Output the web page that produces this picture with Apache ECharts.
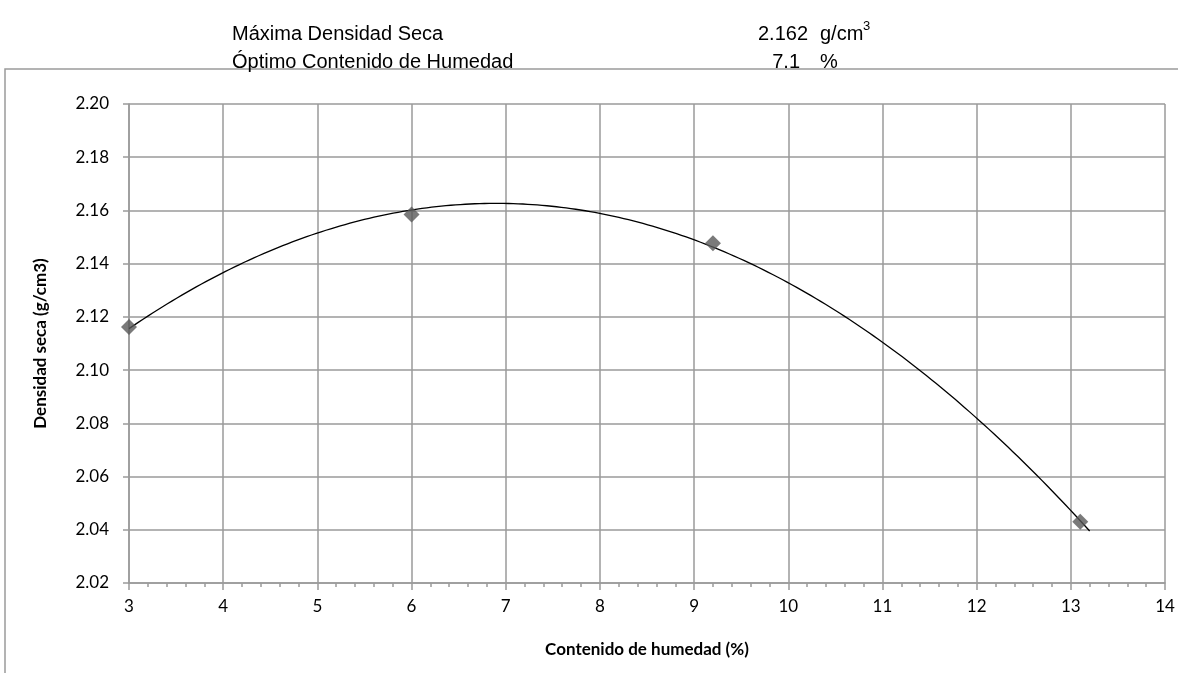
<!DOCTYPE html>
<html>
<head>
<meta charset="utf-8">
<script src="https://cdn.jsdelivr.net/npm/echarts@6/dist/echarts.min.js"></script>
<style>html,body{margin:0;padding:0;background:#fff;}#c{width:1178px;height:673px;}</style>
</head>
<body>
<div id="c"></div>
<script>
// Data
const humedad = [3, 6, 9.2, 13.1];
const densidad = [2.1162, 2.1585, 2.1477, 2.043];
const trendRange = [3, 13.2];
const maxDensidad = '2.162';
const optHumedad = '7.1';
const xTicks = [3,4,5,6,7,8,9,10,11,12,13,14];
const yTicks = ['2.02','2.04','2.06','2.08','2.10','2.12','2.14','2.16','2.18','2.20'];

// Polynomial (order 2) trendline: least-squares fit of the data
function quadFit(xs, ys) {
  let S = [0,0,0,0,0], T = [0,0,0];
  for (let i = 0; i < xs.length; i++) {
    let p = 1;
    for (let k = 0; k < 5; k++) { S[k] += p; if (k < 3) T[k] += p * ys[i]; p *= xs[i]; }
  }
  const M = [[S[0],S[1],S[2],T[0]],[S[1],S[2],S[3],T[1]],[S[2],S[3],S[4],T[2]]];
  for (let i = 0; i < 3; i++) {
    for (let j = i+1; j < 3; j++) {
      const f = M[j][i] / M[i][i];
      for (let k = i; k < 4; k++) M[j][k] -= f * M[i][k];
    }
  }
  const c = [0,0,0];
  for (let i = 2; i >= 0; i--) {
    let s = M[i][3];
    for (let k = i+1; k < 3; k++) s -= M[i][k] * c[k];
    c[i] = s / M[i][i];
  }
  return c;
}
const coef = quadFit(humedad, densidad);
const trend = [];
for (let i = 0; i <= 200; i++) {
  const x = trendRange[0] + (trendRange[1] - trendRange[0]) * i / 200;
  trend.push([x, coef[0] + coef[1]*x + coef[2]*x*x]);
}

const chart = echarts.init(document.getElementById('c'), null, {renderer: 'canvas'});
const gridColor = '#9a9a9a';
const lblFont = 'Lato, "Open Sans", sans-serif';
const hdrFont = '"Liberation Sans", Arial, sans-serif';
chart.setOption({
  animation: false,
  backgroundColor: '#fff',
  grid: {left: 129, right: 13, top: 104, bottom: 90, containLabel: false},
  xAxis: {
    type: 'value', min: 3, max: 14, interval: 1,
    name: 'Contenido de humedad (%)', nameLocation: 'middle', nameGap: 58,
    nameTextStyle: {fontFamily: lblFont, fontWeight: 'bold', fontSize: 17, color: '#000'},
    axisLine: {show: true, onZero: false, lineStyle: {color: gridColor, width: 1.5}},
    axisTick: {show: true, inside: false, length: 7, lineStyle: {color: gridColor, width: 1.5}},
    minorTick: {show: true, splitNumber: 5, length: 4, lineStyle: {color: gridColor, width: 1.5}},
    axisLabel: {fontFamily: lblFont, fontSize: 17, color: '#000', margin: 15,
      formatter: v => xTicks.includes(v) ? String(v) : ''},
    splitLine: {show: true, lineStyle: {color: gridColor, width: 1.5}}
  },
  yAxis: {
    type: 'value', min: 2.02, max: 2.20, interval: 0.02,
    name: 'Densidad seca (g/cm3)', nameLocation: 'middle', nameGap: 80,
    nameTextStyle: {fontFamily: lblFont, fontWeight: 'bold', fontSize: 17, color: '#000'},
    axisLine: {show: true, onZero: false, lineStyle: {color: gridColor, width: 1.5}},
    axisTick: {show: true, inside: false, length: 6, lineStyle: {color: gridColor, width: 1.5}},
    axisLabel: {fontFamily: lblFont, fontSize: 17, color: '#000', margin: 20,
      formatter: v => yTicks[Math.round((v - 2.02) / 0.02)] || ''},
    splitLine: {show: true, lineStyle: {color: gridColor, width: 1.5}}
  },
  series: [
    {
      type: 'line', data: trend, showSymbol: false, symbol: 'none', smooth: false,
      lineStyle: {color: '#000', width: 1.3}, z: 3, silent: true
    },
    {
      type: 'scatter', data: humedad.map((x, i) => [x, densidad[i]]),
      symbol: 'diamond', symbolSize: 16,
      itemStyle: {color: '#595959'}, z: 4
    }
  ],
  graphic: [
    {type: 'rect', shape: {x: 5, y: 69, width: 1250, height: 700},
      style: {fill: 'none', stroke: '#9a9a9a', lineWidth: 1.5}, z: -10, silent: true},
    {type: 'text', left: 232, top: 24, style: {text: 'Máxima Densidad Seca', font: '20px ' + hdrFont, fill: '#000'}},
    {type: 'text', left: 232, top: 52, style: {text: 'Óptimo Contenido de Humedad', font: '20px ' + hdrFont, fill: '#000'}},
    {type: 'text', x: 808, y: 24, style: {text: maxDensidad, font: '20px ' + hdrFont, fill: '#000', align: 'right'}},
    {type: 'text', x: 800, y: 52, style: {text: optHumedad, font: '20px ' + hdrFont, fill: '#000', align: 'right'}},
    {type: 'text', left: 820, top: 24, style: {text: 'g/cm', font: '20px ' + hdrFont, fill: '#000'}},
    {type: 'text', left: 863, top: 20, style: {text: '3', font: '13px ' + hdrFont, fill: '#000'}},
    {type: 'text', left: 820, top: 52, style: {text: '%', font: '20px ' + hdrFont, fill: '#000'}}
  ]
});
</script>
</body>
</html>
